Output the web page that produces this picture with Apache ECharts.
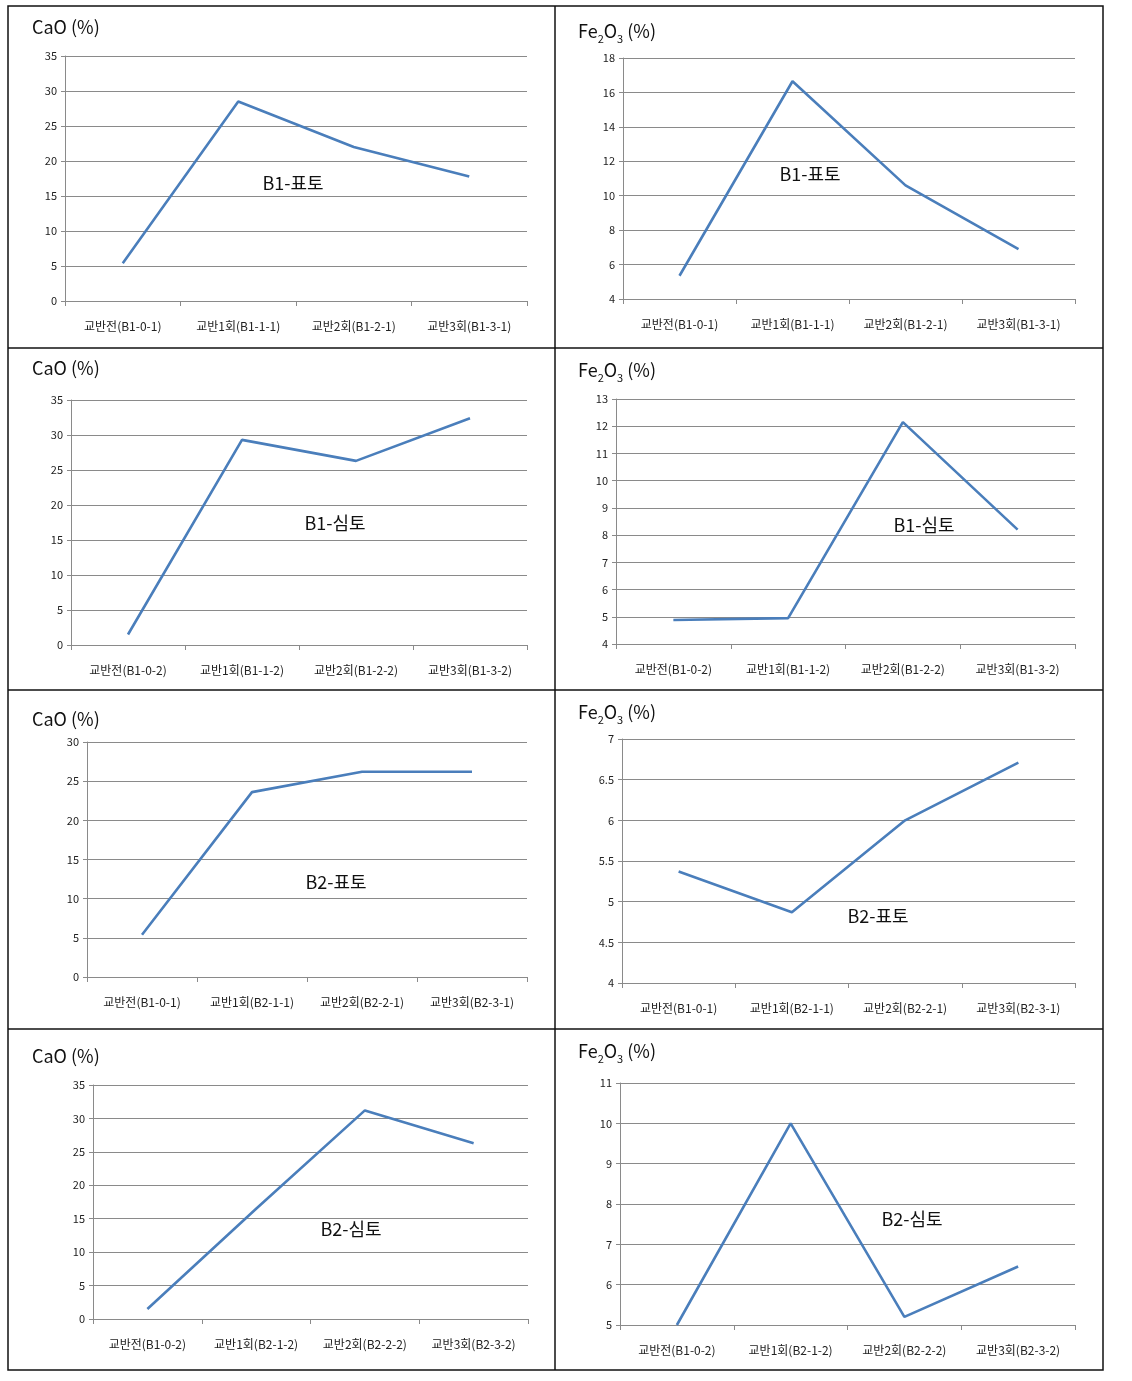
<!DOCTYPE html>
<html><head><meta charset="utf-8">
<script src="https://cdn.jsdelivr.net/npm/echarts@6/dist/echarts.min.js"></script>
<style>html,body{margin:0;padding:0;background:#fff}#c{width:1132px;height:1381px}</style>
</head><body><div id="c"></div>
<script>
// ---- data ----
const catsB1_1 = ['교반전(B1-0-1)','교반1회(B1-1-1)','교반2회(B1-2-1)','교반3회(B1-3-1)'];
const catsB1_2 = ['교반전(B1-0-2)','교반1회(B1-1-2)','교반2회(B1-2-2)','교반3회(B1-3-2)'];
const catsB2_1 = ['교반전(B1-0-1)','교반1회(B2-1-1)','교반2회(B2-2-1)','교반3회(B2-3-1)'];
const catsB2_2 = ['교반전(B1-0-2)','교반1회(B2-1-2)','교반2회(B2-2-2)','교반3회(B2-3-2)'];

const caoB1Surface   = [5.4, 28.5, 22.0, 17.8];
const fe2o3B1Surface = [5.35, 16.65, 10.6, 6.9];
const caoB1Sub       = [1.5, 29.3, 26.3, 32.4];
const fe2o3B1Sub     = [4.88, 4.95, 12.15, 8.2];
const caoB2Surface   = [5.4, 23.6, 26.2, 26.2];
const fe2o3B2Surface = [5.37, 4.87, 6.0, 6.71];
const caoB2Sub       = [1.5, 16.5, 31.2, 26.3];
const fe2o3B2Sub     = [5.0, 10.0, 5.2, 6.45];

const sampleNames = ['B1-표토','B1-표토','B1-심토','B1-심토','B2-표토','B2-표토','B2-심토','B2-심토'];
const yRanges = [[0,35,5],[4,18,2],[0,35,5],[4,13,1],[0,30,5],[4,7,0.5],[0,35,5],[5,11,1]];

// ---- layout ----
const panels = [
  {cats:catsB1_1, vals:caoB1Surface,   kind:'cao', grid:{left:65,top:56,width:462,height:245}, title:[27,13], note:[293,183]},
  {cats:catsB1_1, vals:fe2o3B1Surface, kind:'fe',  grid:{left:623,top:58,width:452,height:241}, title:[573,17], note:[810,174]},
  {cats:catsB1_2, vals:caoB1Sub,       kind:'cao', grid:{left:71,top:400,width:456,height:245}, title:[27,354], note:[335,523]},
  {cats:catsB1_2, vals:fe2o3B1Sub,     kind:'fe',  grid:{left:616,top:399,width:459,height:245}, title:[573,356], note:[924,525]},
  {cats:catsB2_1, vals:caoB2Surface,   kind:'cao', grid:{left:87,top:742,width:440,height:235}, title:[27,705], note:[336,882]},
  {cats:catsB2_1, vals:fe2o3B2Surface, kind:'fe',  grid:{left:622,top:739,width:453,height:244}, title:[573,698], note:[878,916]},
  {cats:catsB2_2, vals:caoB2Sub,       kind:'cao', grid:{left:93,top:1085,width:435,height:234}, title:[27,1042], note:[351,1229]},
  {cats:catsB2_2, vals:fe2o3B2Sub,     kind:'fe',  grid:{left:620,top:1083,width:455,height:242}, title:[573,1037], note:[912,1219]}
];

const FONT = '"Noto Sans CJK KR", "Noto Sans", sans-serif';
const gridColor = '#8a8a8a';
const grids=[], xAxes=[], yAxes=[], series=[], titles=[], graphics=[];

panels.forEach((p,i)=>{
  grids.push(p.grid);
  xAxes.push({type:'category', gridIndex:i, data:p.cats, boundaryGap:true,
    axisLine:{lineStyle:{color:gridColor,width:1}},
    axisTick:{show:true, alignWithLabel:false, length:5, lineStyle:{color:gridColor}},
    axisLabel:{fontFamily:FONT, fontSize:12, color:'#222', margin:19, interval:0}});
  const r = yRanges[i];
  yAxes.push({type:'value', gridIndex:i, min:r[0], max:r[1], interval:r[2],
    axisLine:{show:true, lineStyle:{color:gridColor,width:1}},
    axisTick:{show:true, length:4, lineStyle:{color:gridColor}},
    splitLine:{show:true, lineStyle:{color:gridColor,width:1}},
    axisLabel:{fontFamily:FONT, fontSize:11, color:'#222', margin:8}});
  series.push({type:'line', xAxisIndex:i, yAxisIndex:i, data:p.vals, showSymbol:false, smooth:false,
    lineStyle:{color:'#4a7ebb', width:2.6}, itemStyle:{color:'#4a7ebb'}});
  if (p.kind==='cao') {
    titles.push({left:p.title[0], top:p.title[1], text:'CaO (%)', textStyle:{fontFamily:FONT, fontSize:18, fontWeight:'normal', color:'#111'}});
  } else {
    titles.push({left:p.title[0], top:p.title[1], text:'{n|Fe}{s|2}{n|O}{s|3}{n| (%)}',
      textStyle:{fontFamily:FONT, fontSize:18, fontWeight:'normal', color:'#111',
        rich:{n:{fontFamily:FONT,fontSize:18,color:'#111',verticalAlign:'bottom'},
              s:{fontFamily:FONT,fontSize:11,color:'#111',verticalAlign:'bottom',padding:[0,0,-4,0]}}}});
  }
  graphics.push({type:'text', x:p.note[0], y:p.note[1], style:{text:sampleNames[i], font:'18px '+FONT, fill:'#111', textAlign:'center', textVerticalAlign:'middle'}});
});

// table borders
const L=8,R=1103,T=6,B=1370,MX=555, rows=[348,690,1029];
graphics.push({type:'rect', shape:{x:L,y:T,width:R-L,height:B-T}, style:{fill:null, stroke:'#111', lineWidth:1.5}});
graphics.push({type:'line', shape:{x1:MX,y1:T,x2:MX,y2:B}, style:{stroke:'#111', lineWidth:1.5}});
rows.forEach(y=>graphics.push({type:'line', shape:{x1:L,y1:y,x2:R,y2:y}, style:{stroke:'#111', lineWidth:1.5}}));

const chart = echarts.init(document.getElementById('c'), null, {renderer:'canvas'});
chart.setOption({animation:false, backgroundColor:'#fff', title:titles, grid:grids, xAxis:xAxes, yAxis:yAxes, series:series, graphic:graphics});
</script></body></html>
